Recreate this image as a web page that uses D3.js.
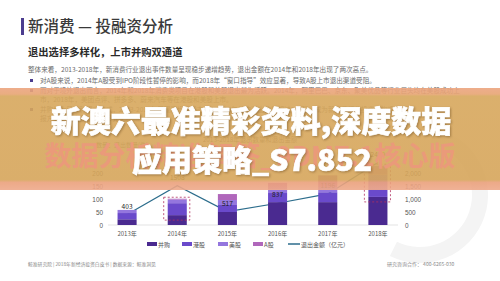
<html>
<head>
<meta charset="utf-8">
<style>
  body { margin: 0; background: #fff; }
  svg { display: block; font-family: "Noto Sans CJK SC", "Noto Sans", sans-serif; }
  .para { font-size: 6.6px; fill: #6a6a6a; }
  .tick text { font-size: 6.4px; fill: #555; }
  .big { font-size: 30px; font-weight: 900; fill: #fff; stroke: #fff; stroke-width: 0.7px;
         filter: drop-shadow(1px 1px 1px rgba(90,60,20,0.45)); }
</style>
</head>
<body>
<script src="https://cdn.jsdelivr.net/npm/d3@7"></script>
<script>
// data
var years = ["2013年", "2014年", "2015年", "2016年", "2017年", "2018年"];
var binggou = [22, 38, 50, 88, 88, 108];   // 并购
var ganggu = [24, 46, 27, 35, 38, 30];     // 港股
var meigu = [12, 14, 19, 14, 20, 55];      // 美股
var agu = [0, 3, 23, 25, 45, 35];          // A股
var amount = [403, 1508, 517, 837, 1196, 2400]; // 退出金额(亿元)
var seriesNames = ["并购", "港股", "美股", "A股"];
var seriesColors = ["#4a2a90", "#6a4acb", "#9476de", "#b067bb"];
var leftTicks = [0, 50, 100, 150, 200];
var rightTicks = [0, 500, 1000, 1500, 2000];
var highlightYears = ["2014年", "2018年"];

var paraLines = [
  {x: 28, y: 72, t: "整体来看，2013-2018年，新消费行业退出事件数量呈现稳步递增趋势，退出金额在2014年和2018年出现了两次高点。", b: false},
  {x: 40, y: 83, t: "对A股来说，2014年A股受到IPO阶段性暂停的影响，而2018年“窗口指导”效应显著，导致A股上市退出渠道受阻。", b: true},
  {x: 40, y: 93, t: "而对于境外退出而言，2014年和2018年消费类项目在港股和美股退出最为活跃。2014年，阿里巴巴、京东、聚美优品等行业巨头均在美股成功上", b: true},
  {x: 40, y: 102, t: "市，2018年，美团点评、拼多多、蔚来汽车等在港股和美股上市。", b: false},
  {x: 40, y: 112, t: "并购作为另一种退出方式，2013-2018年呈现稳步增长态势，2018年并购退出数量超过100起，成为新消费行业投资机构重要的回", b: true},
  {x: 40, y: 121, t: "报方式，退出渠道更加多元化。", b: false}
];

var W = 500, H = 281;
var svg = d3.select("body").append("svg").attr("width", W).attr("height", H);

// faint logo arc on the right
svg.append("path")
  .attr("d", d3.arc()({innerRadius: 52, outerRadius: 68, startAngle: 0.2, endAngle: 3.6}))
  .attr("transform", "translate(420,195)")
  .attr("fill", "#f4f4f4");

// header
svg.append("rect").attr("x", 21).attr("y", 18).attr("width", 3).attr("height", 17).attr("fill", "#4b3d8f");
svg.append("text").attr("x", 28).attr("y", 32).attr("font-size", 15.5).attr("fill", "#3a3a3a").attr("font-weight", 500)
  .text("新消费 — 投融资分析");
svg.append("text").attr("x", 28).attr("y", 55.5).attr("font-size", 10.3).attr("fill", "#2a2a2a").attr("font-weight", 700)
  .text("退出选择多样化，上市并购双通道");

paraLines.forEach(function(p) {
  if (p.b) {
    svg.append("rect").attr("x", 30).attr("y", p.y - 4).attr("width", 3).attr("height", 3).attr("fill", "#4b3d8f");
  }
  svg.append("text").attr("class", "para").attr("x", p.x).attr("y", p.y).text(p.t);
});

// chart
var x = d3.scaleBand().domain(years).range([102, 403]).paddingInner(0.62).paddingOuter(0.31);
var yL = d3.scaleLinear().domain([0, 250]).range([225, 160]);
var yR = d3.scaleLinear().domain([0, 2500]).range([225, 160]);
var cx = function(y) { return x(y) + x.bandwidth() / 2; };

svg.append("text").attr("x", 250).attr("y", 142).attr("text-anchor", "middle")
  .attr("font-size", 6.4).attr("fill", "#666").text("2013-2018年退出数量和退出金额");
svg.append("text").attr("x", 96).attr("y", 147).attr("font-size", 6).attr("fill", "#666").text("数量：退出数量(件)");

var gl = svg.append("g").attr("transform", "translate(106,0)")
  .call(d3.axisLeft(yL).tickValues(leftTicks).tickSize(0).tickPadding(3));
gl.select(".domain").remove();
var gr = svg.append("g").attr("transform", "translate(402,0)")
  .call(d3.axisRight(yR).tickValues(rightTicks).tickSize(0).tickPadding(3));
gr.select(".domain").remove();

svg.append("line").attr("x1", 108).attr("x2", 398).attr("y1", yL(0)).attr("y2", yL(0))
  .attr("stroke", "#d0d0d0").attr("stroke-width", 0.6);

// amount line (behind the bars)
var linePts = years.map(function(y, i) { return [cx(y), yR(amount[i])]; });
svg.append("path").attr("d", d3.line()(linePts))
  .attr("fill", "none").attr("stroke", "#2c6d8c").attr("stroke-width", 1.2);

var table = years.map(function(y, i) {
  return {year: y, "并购": binggou[i], "港股": ganggu[i], "美股": meigu[i], "A股": agu[i]};
});
var stacked = d3.stack().keys(seriesNames)(table);

svg.append("g").selectAll("g").data(stacked).enter().append("g")
  .attr("fill", function(d, i) { return seriesColors[i]; })
  .selectAll("rect").data(function(d) { return d; }).enter().append("rect")
  .attr("x", function(d) { return x(d.data.year); })
  .attr("width", x.bandwidth())
  .attr("y", function(d) { return yL(d[1]); })
  .attr("height", function(d) { return yL(d[0]) - yL(d[1]); });

// dashed highlight boxes
highlightYears.forEach(function(y) {
  var i = years.indexOf(y);
  var total = binggou[i] + ganggu[i] + meigu[i] + agu[i];
  var top = yL(total) - 1.5, bottom = yL(binggou[i]) + 5;
  svg.append("rect").attr("x", x(y) - 4).attr("y", top)
    .attr("width", x.bandwidth() + 7).attr("height", bottom - top)
    .attr("fill", "none").attr("stroke", "#b03060").attr("stroke-width", 0.8)
    .attr("stroke-dasharray", "2,2");
});

// amount labels
svg.append("g").selectAll("text").data(years).enter().append("text")
  .attr("x", function(y) { return cx(y); })
  .attr("y", function(y, i) { return yR(amount[i]) - 6; })
  .attr("text-anchor", "middle").attr("font-size", 6.6).attr("fill", "#222")
  .text(function(y, i) { return amount[i]; });

// x labels
svg.append("g").selectAll("text").data(years).enter().append("text")
  .attr("x", function(y) { return cx(y); }).attr("y", 236)
  .attr("text-anchor", "middle").attr("font-size", 6).attr("fill", "#555")
  .text(function(y) { return y; });

// legend
var legendX = [147, 182, 218, 253];
seriesNames.forEach(function(n, i) {
  svg.append("rect").attr("x", legendX[i]).attr("y", 242).attr("width", 10).attr("height", 4).attr("fill", seriesColors[i]);
  svg.append("text").attr("x", legendX[i] + 11).attr("y", 246.5).attr("font-size", 6).attr("fill", "#555").text(n);
});
svg.append("line").attr("x1", 288).attr("x2", 300).attr("y1", 244).attr("y2", 244)
  .attr("stroke", "#2c6d8c").attr("stroke-width", 1.5);
svg.append("text").attr("x", 301).attr("y", 246.5).attr("font-size", 6).attr("fill", "#555").text("退出金额（亿元）");

// footer
svg.append("text").attr("x", 28).attr("y", 266).attr("font-size", 4.8).attr("fill", "#888")
  .text("鲸准研究院 | 2018年新经济投资白皮书 | 数据来源：鲸准洞见");
svg.append("text").attr("x", 387).attr("y", 266).attr("font-size", 5).attr("fill", "#888")
  .text("研究咨询合作：  400-6265-030");

// overlay band
var defs = svg.append("defs");
var grad = defs.append("linearGradient").attr("id", "band").attr("x1", 0).attr("x2", 0).attr("y1", 0).attr("y2", 1);
[[0, "#eca47f"], [0.06, "#e7a473"], [0.08, "#d7a75c"], [0.9, "#d6a55a"], [0.925, "#eaa07b"], [1, "#eea98a"]].forEach(function(s) {
  grad.append("stop").attr("offset", s[0]).attr("stop-color", s[1]);
});
svg.append("rect").attr("x", 0).attr("y", 88).attr("width", W).attr("height", 102)
  .attr("fill", "url(#band)").attr("opacity", 0.9);

svg.append("text").attr("x", 250).attr("y", 166).attr("text-anchor", "middle")
  .attr("font-size", 27).attr("font-weight", 700).attr("fill", "#ea9a7a")
  .text("数据分析精准解答_9DM7.1核心版");

svg.append("text").attr("class", "big").attr("x", 251).attr("y", 132).attr("text-anchor", "middle")
  .text("新澳六最准精彩资料,深度数据");
svg.append("text").attr("class", "big").attr("x", 252).attr("y", 171).attr("text-anchor", "middle")
  .text("应用策略_S7.852");
</script>
</body>
</html>
